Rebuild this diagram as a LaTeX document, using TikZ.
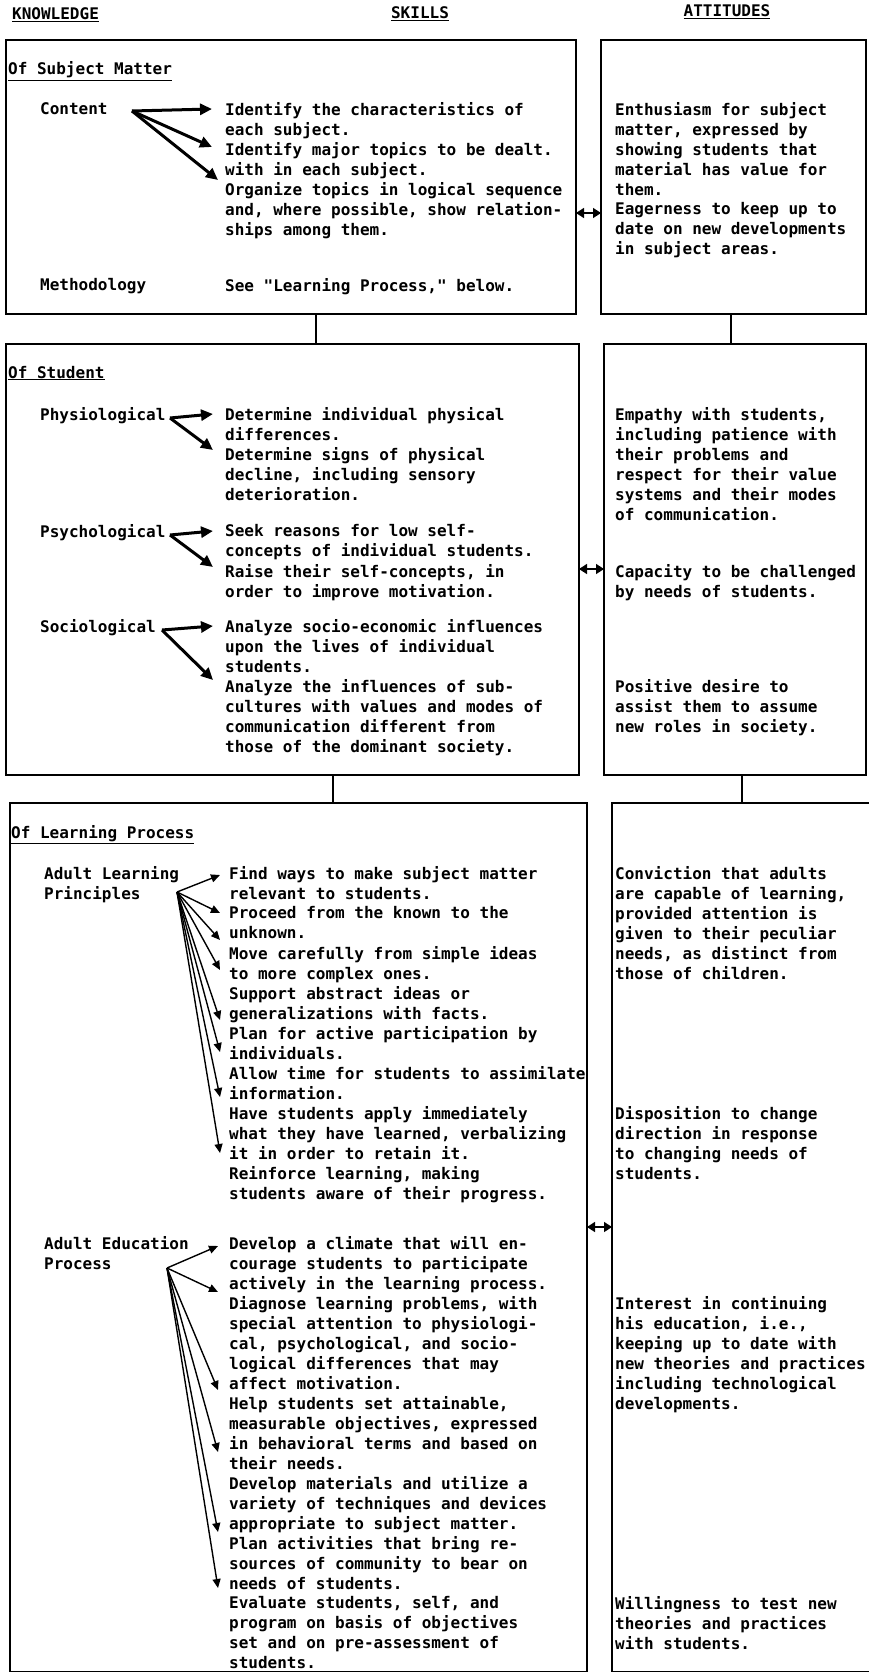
\documentclass[tikz,border=0pt]{standalone}
\usepackage{fontspec}
\setmonofont{DejaVu Sans Mono}
\usetikzlibrary{arrows.meta}
\newcommand{\mono}{\ttfamily\bfseries\fontsize{16}{20}\selectfont}
\tikzset{
  box/.style={draw, line width=2pt, inner sep=0pt, outer sep=0pt, anchor=north west},
  txt/.style={anchor=north west, align=left, inner sep=0pt, font=\mono},
  hdr/.style={anchor=base west, inner sep=0pt, font=\mono},
  fan/.style={line width=3pt, -{Triangle[length=12pt,width=11pt]}},
  smallfan/.style={line width=1.4pt, -{Triangle[length=9pt,width=8pt]}},
  dbl/.style={line width=1.5pt, {Triangle[length=8pt,width=10pt]}-{Triangle[length=8pt,width=10pt]}},
  link/.style={line width=1.6pt}
}
\begin{document}
\begin{tikzpicture}[x=1pt,y=-1pt]
        \useasboundingbox (0,0) rectangle (869,1672);
        \node[hdr] (hKnow) at (12,20) {\underline{KNOWLEDGE}};
        \node[hdr, anchor=base] (hSkill) at (420,19) {\underline{SKILLS}};
        \node[hdr, anchor=base] (hAtt) at (727,17) {\underline{ATTITUDES}};

        \node[box, minimum width=570pt, minimum height=274pt] (subj) at (6,40) {};
        \node[box, minimum width=265pt, minimum height=274pt] (subjA) at (601,40) {};
        \node[box, minimum width=573pt, minimum height=431pt] (stud) at (6,344) {};
        \node[box, minimum width=262pt, minimum height=431pt] (studA) at (604,344) {};
        \node[box, minimum width=577pt, minimum height=869pt] (lrn) at (10,803) {};
        \node[box, minimum width=265pt, minimum height=869pt] (lrnA) at (612,803) {};

        \coordinate (k1) at (316,0);
        \coordinate (k2) at (333,0);
        \coordinate (t1) at (731,0);
        \coordinate (t2) at (742,0);
        \draw[link] (subj.south -| k1) -- (stud.north -| k1);
        \draw[link] (stud.south -| k2) -- (lrn.north -| k2);
        \draw[link] (subjA.south -| t1) -- (studA.north -| t1);
        \draw[link] (studA.south -| t2) -- (lrnA.north -| t2);
        \coordinate (m1) at (0,213);
        \coordinate (m2) at (0,569);
        \coordinate (m3) at (0,1227);
        \draw[dbl] (subj.east |- m1) -- (subjA.west |- m1);
        \draw[dbl] (stud.east |- m2) -- (studA.west |- m2);
        \draw[dbl] (lrn.east |- m3) -- (lrnA.west |- m3);

        % of subject matter
        \node[hdr] (hSubj) at (8,75) {\underline{Of Subject Matter}};
        \node[txt] (content) at (40,102) {Content};
        \node[txt] (cont1) at (225,102) {Identify the characteristics of\\each subject.};
        \node[txt] (cont2) at (225,142) {Identify major topics to be dealt.\\with in each subject.};
        \node[txt] (cont3) at (225,182) {Organize topics in logical sequence\\and, where possible, show relation-\\ships among them.};
        \node[txt] (method) at (40,278) {Methodology};
        \node[txt] (meth1) at (225,278) {See "Learning Process," below.};
        \node[txt] (attA1) at (615,102) {Enthusiasm for subject\\matter, expressed by\\showing students that\\material has value for\\them.};
        \node[txt] (attA2) at (615,202) {Eagerness to keep up to\\date on new developments\\in subject areas.};
        \coordinate (oCont) at (132,111);
        \draw[fan] (oCont) -- ([shift={(-13,7)}]cont1.north west);
        \draw[fan] (oCont) -- ([shift={(-13,5)}]cont2.north west);
        \draw[fan] (oCont) -- ([shift={(-7,-2)}]cont3.north west);

        % of student
        \node[hdr] (hStud) at (8,378) {\underline{Of Student}};
        \node[txt] (physio) at (40,407) {Physiological};
        \node[txt] (phys1) at (225,407) {Determine individual physical\\differences.};
        \node[txt] (phys2) at (225,447) {Determine signs of physical\\decline, including sensory\\deterioration.};
        \node[txt] (psycho) at (40,524) {Psychological};
        \node[txt] (psy1) at (225,524) {Seek reasons for low self-\\concepts of individual students.};
        \node[txt] (psy2) at (225,564) {Raise their self-concepts, in\\order to improve motivation.};
        \node[txt] (socio) at (40,619) {Sociological};
        \node[txt] (soc1) at (225,619) {Analyze socio-economic influences\\upon the lives of individual\\students.};
        \node[txt] (soc2) at (225,679) {Analyze the influences of sub-\\cultures with values and modes of\\communication different from\\those of the dominant society.};
        \node[txt] (attB1) at (615,407) {Empathy with students,\\including patience with\\their problems and\\respect for their value\\systems and their modes\\of communication.};
        \node[txt] (attB2) at (615,564) {Capacity to be challenged\\by needs of students.};
        \node[txt] (attB3) at (615,679) {Positive desire to\\assist them to assume\\new roles in society.};
        \coordinate (oPhys) at (170,418);
        \coordinate (oPsy) at (170,535);
        \coordinate (oSoc) at (162,630);
        \draw[fan] (oPhys) -- ([shift={(-12,7)}]phys1.north west);
        \draw[fan] (oPhys) -- ([shift={(-12,3)}]phys2.north west);
        \draw[fan] (oPsy) -- ([shift={(-12,7)}]psy1.north west);
        \draw[fan] (oPsy) -- ([shift={(-12,3)}]psy2.north west);
        \draw[fan] (oSoc) -- ([shift={(-12,7)}]soc1.north west);
        \draw[fan] (oSoc) -- ([shift={(-12,1)}]soc2.north west);

        % of learning process
        \node[hdr] (hLrn) at (11,838) {\underline{Of Learning Process}};
        \node[txt] (princ) at (44,866) {Adult Learning\\Principles};
        \node[txt] (lp1) at (229,866) {Find ways to make subject matter\\relevant to students.};
        \node[txt] (lp2) at (229,906) {Proceed from the known to the\\unknown.};
        \node[txt] (lp3) at (229,946) {Move carefully from simple ideas\\to more complex ones.};
        \node[txt] (lp4) at (229,986) {Support abstract ideas or\\generalizations with facts.};
        \node[txt] (lp5) at (229,1026) {Plan for active participation by\\individuals.};
        \node[txt] (lp6) at (229,1066) {Allow time for students to assimilate\\information.};
        \node[txt] (lp7) at (229,1106) {Have students apply immediately\\what they have learned, verbalizing\\it in order to retain it.};
        \node[txt] (lp8) at (229,1166) {Reinforce learning, making\\students aware of their progress.};
        \node[txt] (process) at (44,1236) {Adult Education\\Process};
        \node[txt] (ep1) at (229,1236) {Develop a climate that will en-\\courage students to participate\\actively in the learning process.};
        \node[txt] (ep2) at (229,1296) {Diagnose learning problems, with\\special attention to physiologi-\\cal, psychological, and socio-\\logical differences that may\\affect motivation.};
        \node[txt] (ep3) at (229,1396) {Help students set attainable,\\measurable objectives, expressed\\in behavioral terms and based on\\their needs.};
        \node[txt] (ep4) at (229,1476) {Develop materials and utilize a\\variety of techniques and devices\\appropriate to subject matter.};
        \node[txt] (ep5) at (229,1536) {Plan activities that bring re-\\sources of community to bear on\\needs of students.};
        \node[txt] (ep6) at (229,1596) {Evaluate students, self, and\\program on basis of objectives\\set and on pre-assessment of\\students.};
        \node[txt] (attC1) at (615,866) {Conviction that adults\\are capable of learning,\\provided attention is\\given to their peculiar\\needs, as distinct from\\those of children.};
        \node[txt] (attC2) at (615,1106) {Disposition to change\\direction in response\\to changing needs of\\students.};
        \node[txt] (attC3) at (615,1296) {Interest in continuing\\his education, i.e.,\\keeping up to date with\\new theories and practices\\including technological\\developments.};
        \node[txt] (attC4) at (615,1596) {Willingness to test new\\theories and practices\\with students.};
        \coordinate (oPrinc) at (177,892);
        \coordinate (oProc) at (167,1268);
        \foreach \i/\dy in {1/9,2/7,3/-6,4/-16,5/-6,6/-14,7/-9,8/-13}
            \draw[smallfan] (oPrinc) -- ([shift={(-9,\dy)}]lp\i.north west);
        \foreach \i/\dy in {1/10,2/-4,3/-6,4/-24,5/-4,6/-8}
            \draw[smallfan] (oProc) -- ([shift={(-11,\dy)}]ep\i.north west);
    \end{tikzpicture}
\end{document}
